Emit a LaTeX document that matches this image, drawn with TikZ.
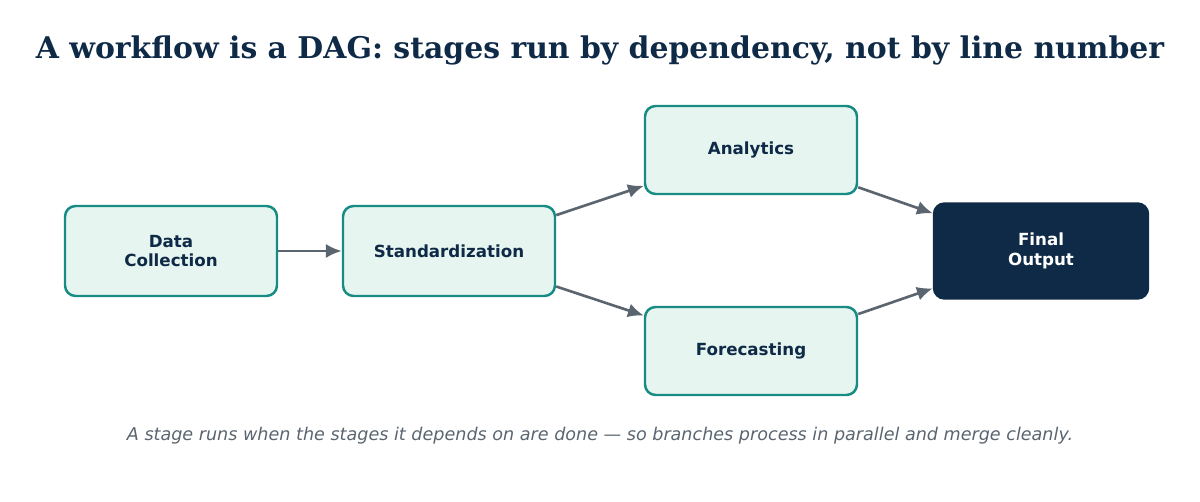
\documentclass[tikz,border=0pt]{standalone}
\usepackage{fontspec}
\setmainfont{DejaVu Serif}
\setsansfont{DejaVu Sans}
\usetikzlibrary{positioning,arrows.meta}
\definecolor{navy}{HTML}{0F2A47}
\definecolor{teal}{HTML}{178C84}
\definecolor{mint}{HTML}{E6F5EF}
\definecolor{slate}{HTML}{5A6570}
\tikzset{
  stage/.style={draw=teal,fill=mint,line width=1.4pt,rounded corners=6pt,
    minimum width=212\px,minimum height=90\px,align=center,text=navy,
    font=\sffamily\bfseries\fontsize{9.5}{11}\selectfont},
  sink/.style={stage,draw=navy,fill=navy,text=white,minimum width=214\px,minimum height=95\px},
  flow/.style={draw=slate,line width=1.5pt,-{Latex[length=9pt,width=8pt]}}
}
\newlength{\px}\setlength{\px}{0.02cm}
\begin{document}
\begin{tikzpicture}[x=0.02cm,y=-0.02cm]
\useasboundingbox (0,0) rectangle (1200,502);
\node[text=navy,font=\rmfamily\bfseries\fontsize{17}{20}\selectfont] (title) at (600,50) {A workflow is a DAG: stages run by dependency, not by line number};
\node[stage] (collect) at (171,251) {Data\\Collection};
\node[stage] (std) at (449,251) {Standardization};
\node[stage,minimum height=88\px] (analytics) at (751,150) {Analytics};
\node[stage,minimum height=88\px] (forecast) at (751,351) {Forecasting};
\node[sink] (final) at (1041,251) {Final\\Output};
\draw[flow] (collect) -- (std);
\draw[flow] (std) -- (analytics);
\draw[flow] (std) -- (forecast);
\draw[flow] (analytics) -- (final);
\draw[flow] (forecast) -- (final);
\node[text=slate,font=\sffamily\itshape\fontsize{10}{12}\selectfont] (note) at (600,436) {A stage runs when the stages it depends on are done — so branches process in parallel and merge cleanly.};
\end{tikzpicture}
\end{document}
